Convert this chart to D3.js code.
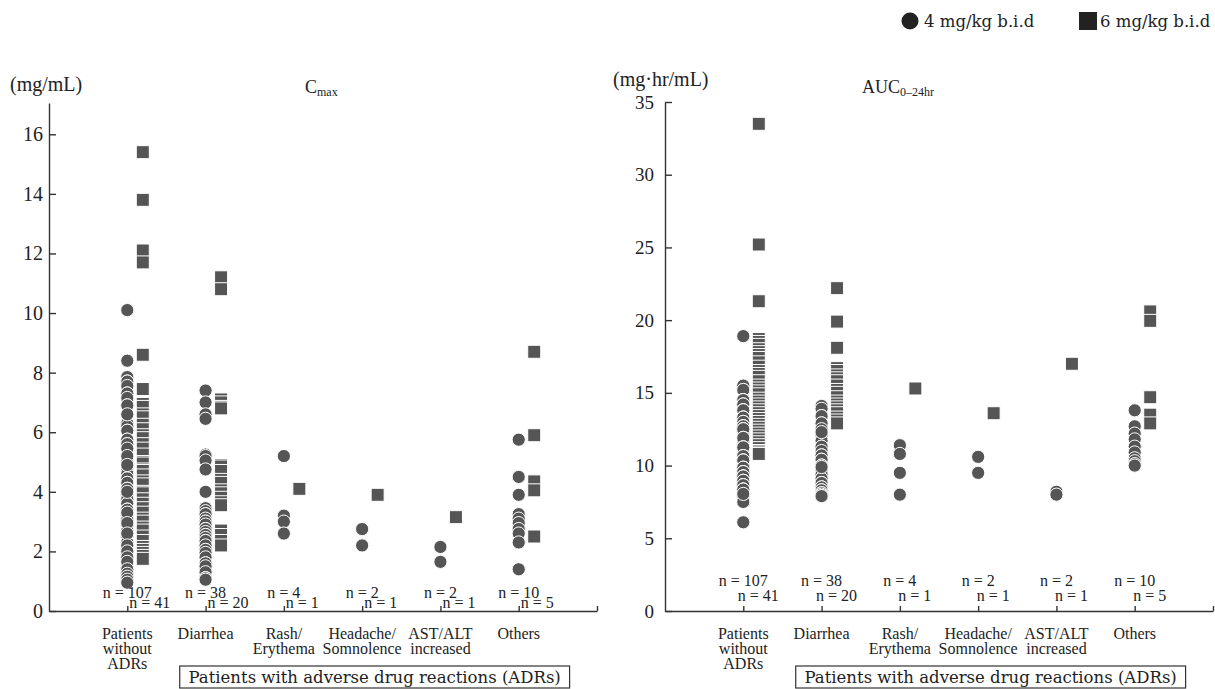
<!DOCTYPE html>
<html><head><meta charset="utf-8">
<script src="https://cdn.jsdelivr.net/npm/d3@7"></script>
<style>body{margin:0;background:#fff} svg{display:block}</style>
</head><body>
<svg id="c" width="1215" height="689"></svg>
<script>
// ---------- DATA ----------
const categories = [["Patients","without","ADRs"],["Diarrhea"],["Rash/","Erythema"],["Headache/","Somnolence"],["AST/ALT","increased"],["Others"]];
const nLow  = [107, 38, 4, 2, 2, 10];
const nHigh = [41, 20, 1, 1, 1, 5];
const legendLabels = ["4 mg/kg b.i.d", "6 mg/kg b.i.d"];
const boxLabel = "Patients with adverse drug reactions (ADRs)";
const cmaxTicks = [0, 2, 4, 6, 8, 10, 12, 14, 16];
const aucTicks  = [0, 5, 10, 15, 20, 25, 30, 35];

// Cmax (mg/mL), 4 mg/kg b.i.d  (repeated values = overlapping patients)
const cmaxLow = [
  [10.1, 8.4,
   7.85,7.85, 7.7,7.7, 7.55, 7.3,7.3, 7.15, 6.9,6.9,
   6.3,6.3, 6.2, 6.05,6.05, 5.75,5.75, 5.6,5.6, 5.45,
   5.0,5.0, 4.7,4.7,4.7, 4.6,4.6, 4.45,4.45, 4.3,4.3, 4.1,4.1,4.1,
   3.9,3.9,3.9, 3.75,3.75, 3.6,3.6,3.6, 3.4,3.4,3.4, 3.2,3.2, 3.05,3.05,3.05,
   2.85,2.85,2.85, 2.7,2.7,2.7, 2.5,2.5,2.5, 2.3,2.3,2.3, 2.1,2.1,2.1,
   1.9,1.9,1.9, 1.7,1.7,1.7, 1.55,1.55,1.55, 1.45,1.45,1.45, 1.3,1.3,1.3,
   1.2,1.2,1.2, 1.1,1.1,1.1, 1.0,1.0,1.0,
   6.6, 5.2, 4.9, 3.3, 2.95, 2.6, 2.2, 2.0, 1.8, 1.65, 1.4, 1.25, 1.15, 1.05, 0.95, 4.0],
  [7.4, 7.0, 6.6, 6.45, 5.25, 5.2, 5.05, 4.75, 4.0, 3.45, 3.45, 3.35, 3.25, 3.25, 3.1,
   3.0, 3.0, 2.9, 2.75, 2.75, 2.65, 2.55, 2.55, 2.45, 2.35, 2.35, 2.2, 2.05, 2.05,
   1.95, 1.8, 1.6, 1.6, 1.5, 1.3, 1.1, 1.1, 1.05],
  [5.2, 3.2, 3.0, 2.6],
  [2.75, 2.2],
  [2.15, 1.65],
  [5.75, 4.5, 3.9, 3.25, 3.1, 2.95, 2.75, 2.6, 2.3, 1.4]
];
// Cmax (mg/mL), 6 mg/kg b.i.d
const cmaxHigh = [
  [15.4,13.8,12.1,11.7,8.6,7.45,6.95,6.85,6.6,6.5,
   6.25,6.1,5.9,5.8,5.6,5.45,5.25,5.0,4.95,4.75,
   4.7,4.55,4.35,4.25,4.0,3.95,3.75,3.6,3.45,3.3,
   3.1,3.0,2.8,2.7,2.5,2.35,2.15,2.05,1.95,1.85,1.75],
  [11.2,10.8,7.1,7.0,6.85,6.8,4.9,4.85,4.7,4.4,
   4.3,4.05,3.95,3.8,3.65,3.55,2.7,2.55,2.35,2.2],
  [4.1],
  [3.9],
  [3.15],
  [8.7, 5.9, 4.35, 4.05, 2.5]
];
// AUC0-24hr (mg·hr/mL), 4 mg/kg b.i.d
const aucLow = [
  [18.9, 15.5,15.5, 15.2,15.2, 14.5,14.5,14.5, 14.2,14.2, 13.8,13.8,13.8,
   13.3,13.3,13.3, 13.0,13.0, 12.7,12.7,12.7, 12.3,12.3,12.3, 12.0,12.0,
   11.7,11.7,11.7, 11.4,11.4,11.4, 11.1,11.1,11.1, 10.8,10.8,10.8,
   10.5,10.5,10.5, 10.2,10.2,10.2, 10.0,10.0,10.0, 9.7,9.7,9.7,
   9.4,9.4,9.4, 9.1,9.1,9.1, 8.8,8.8,8.8, 8.5,8.5,8.5, 8.2,8.2,8.2,
   7.9,7.9,7.9, 7.7,7.7, 7.5,7.5, 6.1,
   12.5,12.5,12.5, 11.9,11.9,11.9, 11.25,11.25,11.25, 10.65,10.65,10.65,
   10.35,10.35,10.35, 9.85,9.85,9.85, 9.55,9.55,9.55, 9.25,9.25,9.25,
   8.95,8.95,8.95, 8.65,8.65,8.65, 8.35,8.35,8.35, 8.05],
  [14.1, 13.9, 13.4, 13.4, 12.9, 12.9, 12.5, 12.1, 12.1, 11.7, 11.7, 11.3, 11.3, 11.0,
   10.7, 10.7, 10.4, 10.4, 10.0, 10.0, 9.7, 9.7, 9.4, 9.1, 9.1, 8.8, 8.8, 8.5, 8.5,
   8.3, 8.3, 8.1, 8.1, 8.0, 7.9, 7.9, 12.3, 9.9],
  [11.4, 10.8, 9.5, 8.0],
  [10.6, 9.5],
  [8.2, 8.0],
  [13.8, 12.7, 12.2, 11.8, 11.3, 10.9, 10.5, 10.3, 10.1, 10.0]
];
// AUC0-24hr (mg·hr/mL), 6 mg/kg b.i.d
const aucHigh = [
  [33.5,25.2,21.3,18.7,18.5,18.3,18.0,17.8,17.6,17.4,
   17.1,16.8,16.5,16.3,16.1,15.8,15.5,15.3,15.1,14.9,
   14.6,14.4,14.2,14.0,13.8,13.6,13.4,13.2,13.0,12.8,
   12.6,12.4,12.2,12.0,11.8,11.6,11.4,11.2,11.0,10.9,10.8],
  [22.2,19.9,18.1,16.7,16.5,16.2,16.0,15.8,15.5,15.2,
   15.0,14.7,14.4,14.2,14.0,13.8,13.6,13.3,13.1,12.9],
  [15.3],
  [13.6],
  [17.0],
  [20.6, 19.95, 14.7, 13.5, 12.9]
];

// ---------- DRAW ----------
const svg = d3.select("#c");
const SERIF = "'Liberation Serif', 'Times New Roman', serif";
const WIDE = "'DejaVu Serif', serif";
const MARK = "#555555";
const INK = "#333333";

function panel(cfg) {
  const x = d3.scaleLinear().domain([0, 7]).range(cfg.xr);
  const y = d3.scaleLinear().domain(cfg.yd).range([611, cfg.yTop]);
  const g = svg.append("g");

  // y axis
  const ya = g.append("g").attr("transform", `translate(${cfg.xr[0]},0)`)
    .call(d3.axisLeft(y).tickValues(cfg.ticks).tickSize(-7).tickSizeOuter(0).tickPadding(cfg.pad));
  ya.attr("font-family", SERIF).attr("font-size", cfg.tickFont);
  ya.selectAll("path,line").attr("stroke", INK).attr("stroke-width", 1.4);
  ya.selectAll("text").attr("fill", "#222");

  // x axis
  const xa = g.append("g").attr("transform", `translate(0,${y(0)})`)
    .call(d3.axisBottom(x).tickValues([1,2,3,4,5,6,7]).tickSize(-5).tickSizeOuter(0).tickFormat(""));
  xa.selectAll("path,line").attr("stroke", INK).attr("stroke-width", 1.4);

  // markers
  cfg.low.forEach((vals, i) => {
    g.append("g").selectAll("circle").data(vals).join("circle")
      .attr("cx", x(i + 1)).attr("cy", d => y(d)).attr("r", 6.6)
      .attr("fill", MARK).attr("stroke", "#fff").attr("stroke-width", 1);
  });
  cfg.high.forEach((vals, i) => {
    g.append("g").selectAll("rect").data(vals).join("rect")
      .attr("x", x(i + 1) + 15.5 - 6.5).attr("y", d => y(d) - 6.5)
      .attr("width", 13).attr("height", 13)
      .attr("fill", MARK).attr("stroke", "#fff").attr("stroke-width", 1);
  });

  // n labels
  nLow.forEach((n, i) => {
    g.append("text").attr("x", x(i + 1)).attr("y", cfg.nY[0])
      .attr("text-anchor", "middle").attr("font-family", SERIF).attr("font-size", 16)
      .attr("fill", "#222").text("n = " + n);
  });
  nHigh.forEach((n, i) => {
    g.append("text").attr("x", x(i + 1) + cfg.nOff).attr("y", cfg.nY[1])
      .attr("text-anchor", cfg.nAnchor).attr("font-family", SERIF).attr("font-size", 16)
      .attr("fill", "#222").text("n = " + n);
  });

  // category labels
  categories.forEach((lines, i) => {
    const t = g.append("text").attr("text-anchor", "middle")
      .attr("font-family", SERIF).attr("font-size", 16).attr("fill", "#222");
    lines.forEach((l, j) => t.append("tspan").attr("x", x(i + 1)).attr("y", 639 + j * 15).text(l));
  });

  // ADR box
  const bx0 = x(1.67), bx1 = x(6.65);
  g.append("rect").attr("x", bx0).attr("y", 666).attr("width", bx1 - bx0).attr("height", 22)
    .attr("fill", "none").attr("stroke", INK).attr("stroke-width", 1.2);
  g.append("text").attr("x", (bx0 + bx1) / 2).attr("y", 682.5).attr("text-anchor", "middle")
    .attr("font-family", WIDE).attr("font-size", 16.5).attr("fill", "#222").text(boxLabel);

  // unit
  g.append("text").attr("x", cfg.unitX).attr("y", cfg.unitY).attr("font-family", SERIF)
    .attr("font-size", 20).attr("fill", "#222").text(cfg.unit);
  // title
  const tt = g.append("text").attr("x", cfg.titleX).attr("y", 93).attr("font-family", SERIF)
    .attr("font-size", 18).attr("fill", "#222");
  tt.append("tspan").text(cfg.title[0]);
  tt.append("tspan").attr("font-size", 12).attr("dy", 3).text(cfg.title[1]);
}

panel({ xr: [49, 597], yd: [0, 17.05], yTop: 103, ticks: cmaxTicks, pad: 6, tickFont: 20,
  low: cmaxLow, high: cmaxHigh, nY: [598, 608], nOff: 2, nAnchor: "start",
  unit: "(mg/mL)", unitX: 10, unitY: 91, title: ["C", "max"], titleX: 305 });
panel({ xr: [665, 1213], yd: [0, 35], yTop: 102, ticks: aucTicks, pad: 11, tickFont: 19,
  low: aucLow, high: aucHigh, nY: [586, 601], nOff: 15, nAnchor: "middle",
  unit: "(mg\u00B7hr/mL)", unitX: 613, unitY: 86, title: ["AUC", "0\u201324hr"], titleX: 862 });

// legend
const lg = svg.append("g");
lg.append("circle").attr("cx", 910).attr("cy", 21).attr("r", 8.5).attr("fill", "#222");
lg.append("text").attr("x", 924).attr("y", 27).attr("font-family", WIDE).attr("font-size", 16.5)
  .attr("fill", "#222").text(legendLabels[0]);
lg.append("rect").attr("x", 1079).attr("y", 12).attr("width", 18).attr("height", 18).attr("fill", "#222");
lg.append("text").attr("x", 1100).attr("y", 27).attr("font-family", WIDE).attr("font-size", 16.5)
  .attr("fill", "#222").text(legendLabels[1]);
</script>
</body></html>
